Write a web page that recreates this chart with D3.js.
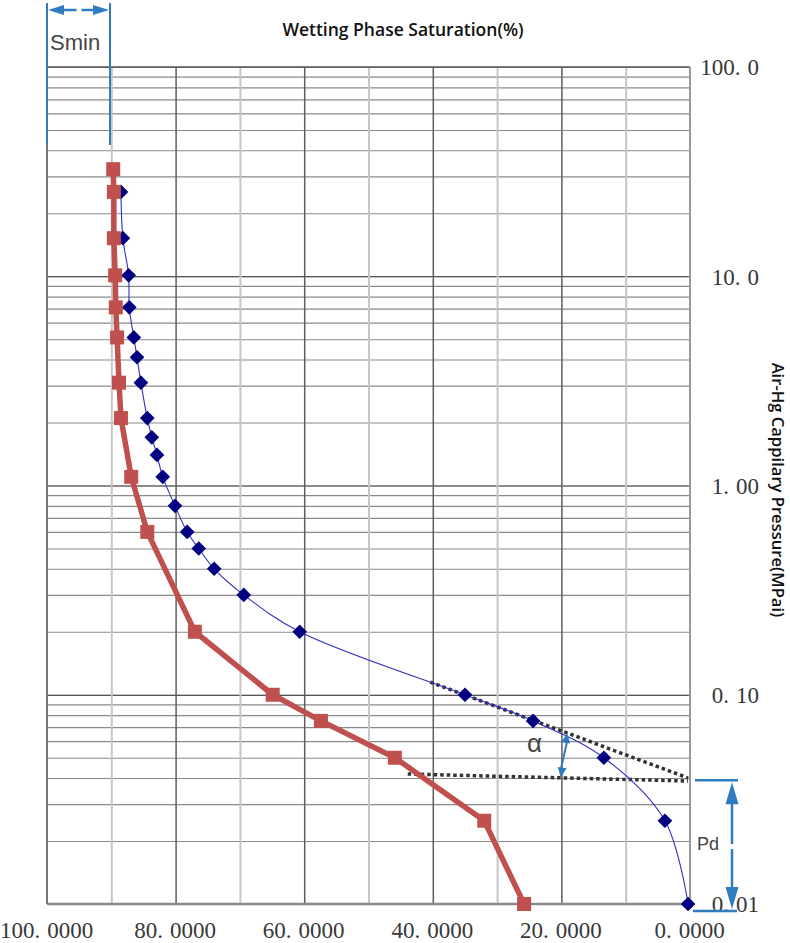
<!DOCTYPE html>
<html>
<head>
<meta charset="utf-8">
<script src="https://cdn.jsdelivr.net/npm/d3@7"></script>
<style>
  body { margin: 0; background: #fff; }
  svg { display: block; }
</style>
</head>
<body>
<div id="chart"></div>
<script>
// tick values / labels
const satTicks = [100, 80, 60, 40, 20, 0];
const satLabels = ["100.0000", "80.0000", "60.0000", "40.0000", "20.0000", "0.0000"];
const presTicks = [0.01, 0.1, 1, 10, 100];
const presLabels = ["0.01", "0.10", "1.00", "10.0", "100.0"];

// blue series (diamonds)
const blueP = [25.3, 15.2, 10.1, 7.1, 5.1, 4.1, 3.1, 2.1, 1.7, 1.4, 1.1, 0.8, 0.6, 0.5, 0.4, 0.3, 0.2, 0.1, 0.075, 0.05, 0.025, 0.01];
const blueS = [88.5, 88.2, 87.3, 87.2, 86.5, 86.0, 85.4, 84.4, 83.7, 82.9, 82.0, 80.1, 78.2, 76.4, 74.0, 69.4, 60.7, 35.0, 24.4, 13.4, 3.9, 0.3];

// red series (squares)
const redP = [32.5, 25.3, 15.2, 10.1, 7.1, 5.1, 3.1, 2.1, 1.1, 0.6, 0.2, 0.1, 0.075, 0.05, 0.025, 0.01];
const redS = [89.7, 89.6, 89.6, 89.4, 89.3, 89.1, 88.8, 88.5, 86.9, 84.4, 77.0, 64.9, 57.4, 45.9, 32.0, 25.8];

// annotations
const sMin = 90.2;
const pd = 0.039;
const tangentS = [40.4, 0.3], tangentP = [0.115, 0.040];
const flatS = [43.9, 0.3], flatP = [0.0418, 0.0387];
const alphaS = [19.1, 20.1], alphaP = [0.0656, 0.0402];

const W = 790, H = 943;
const pLeft = 47, pRight = 690, pTop = 67, pBottom = 904;
const annBlue = "#2f7cc0";

const svg = d3.select("#chart").append("svg")
    .attr("width", W)
    .attr("height", H);

const x = d3.scaleLinear().domain([100, 0]).range([pLeft, pRight]);
const y = d3.scaleLog().domain([0.01, 100]).range([pBottom, pTop]);

// horizontal grid (minor + decades)
let hVals = [];
[0.01, 0.1, 1, 10].forEach(d => { for (let k = 1; k <= 9; k++) hVals.push(+(k * d).toPrecision(3)); });
hVals.push(100);

svg.append("g")
    .attr("transform", `translate(${pLeft},0)`)
    .call(d3.axisLeft(y).tickValues(hVals).tickSize(-(pRight - pLeft)).tickFormat(""))
    .call(g => g.select(".domain").remove())
    .selectAll("line")
    .attr("stroke", d => presTicks.includes(d) && d !== 0.01 && d !== 100 ? "#1a1a1a" : "#8a8a8a")
    .attr("stroke-width", 1.2);

// vertical grid
svg.append("g")
    .attr("transform", `translate(0,${pBottom})`)
    .call(d3.axisBottom(x).tickValues(d3.range(10, 100, 10)).tickSize(-(pBottom - pTop)).tickFormat(""))
    .call(g => g.select(".domain").remove())
    .selectAll("line")
    .attr("stroke", d => d % 20 === 0 ? "#5e5e5e" : "#c6c6c6")
    .attr("stroke-width", d => d % 20 === 0 ? 1.5 : 2);

// frame
svg.append("line").attr("x1", pLeft).attr("x2", pRight).attr("y1", pTop).attr("y2", pTop)
    .attr("stroke", "#555").attr("stroke-width", 1.5);
svg.append("line").attr("x1", pLeft).attr("x2", pRight).attr("y1", pBottom).attr("y2", pBottom)
    .attr("stroke", "#8a8a8a").attr("stroke-width", 2.5);
svg.append("line").attr("x1", pLeft).attr("x2", pLeft).attr("y1", pTop).attr("y2", pBottom)
    .attr("stroke", "#777").attr("stroke-width", 2);
svg.append("line").attr("x1", pRight).attr("x2", pRight).attr("y1", pTop).attr("y2", pBottom)
    .attr("stroke", "#999").attr("stroke-width", 2);

// splits "100.0000" so the period gets the wide look of the original font
function widePeriod(sel) {
    sel.each(function () {
        const t = d3.select(this), s = t.text(), i = s.indexOf(".");
        t.text(null);
        t.append("tspan").text(s.slice(0, i + 1));
        t.append("tspan").attr("dx", 7).text(s.slice(i + 1));
    });
}

// bottom axis labels
svg.append("g")
    .attr("transform", `translate(0,${pBottom})`)
    .call(d3.axisBottom(x).tickValues(satTicks).tickSize(0)
        .tickFormat((d, i) => satLabels[i]))
    .call(g => g.select(".domain").remove())
    .selectAll("text")
    .attr("y", 34).attr("dy", 0).attr("dx", -1)
    .style("font-family", "'Liberation Serif', serif")
    .style("font-size", "23px")
    .style("fill", "#383838")
    .call(widePeriod);

// right axis labels
svg.append("g")
    .attr("transform", `translate(${pRight},0)`)
    .call(d3.axisRight(y).tickValues(presTicks).tickSize(0)
        .tickFormat((d, i) => presLabels[i]))
    .call(g => g.select(".domain").remove())
    .selectAll("text")
    .attr("x", 69).attr("dy", "0.34em")
    .attr("text-anchor", "end")
    .style("font-family", "'Liberation Serif', serif")
    .style("font-size", "23px")
    .style("fill", "#383838")
    .call(widePeriod);

// titles
svg.append("text")
    .attr("x", 403).attr("y", 36)
    .attr("text-anchor", "middle")
    .style("font-family", "'Open Sans', sans-serif")
    .style("font-weight", 600)
    .style("font-size", "17.5px")
    .style("fill", "#111")
    .text("Wetting Phase Saturation(%)");

svg.append("text")
    .attr("transform", "translate(772,490) rotate(90)")
    .attr("text-anchor", "middle")
    .style("font-family", "'Open Sans', sans-serif")
    .style("font-weight", 600)
    .style("font-size", "16.6px")
    .style("fill", "#111")
    .text("Air-Hg Cappilary Pressure(MPai)");

// dotted construction lines
const dotted = d3.line().x(d => x(d[0])).y(d => y(d[1]));
[[tangentS, tangentP], [flatS, flatP]].forEach(([s, p]) => {
    svg.append("path")
        .attr("d", dotted(s.map((v, i) => [v, p[i]])))
        .attr("fill", "none")
        .attr("stroke", "#333")
        .attr("stroke-width", 3.5)
        .attr("stroke-dasharray", "3.5,3");
});

// blue curve
const blue = blueS.map((s, i) => ({ s, p: blueP[i] }));
svg.append("path")
    .datum(blue)
    .attr("fill", "none")
    .attr("stroke", "#3030c0")
    .attr("stroke-width", 1.1)
    .attr("d", d3.line().curve(d3.curveCatmullRom.alpha(0.5)).x(d => x(d.s)).y(d => y(d.p)));
svg.selectAll(".dia")
    .data(blue)
    .enter().append("path")
    .attr("class", "dia")
    .attr("d", d3.symbol(d3.symbolSquare, 108)())
    .attr("transform", d => `translate(${x(d.s)},${y(d.p)}) rotate(45)`)
    .attr("fill", "#000080");

// red curve
const red = redS.map((s, i) => ({ s, p: redP[i] }));
svg.append("path")
    .datum(red)
    .attr("fill", "none")
    .attr("stroke", "#c0504d")
    .attr("stroke-width", 5.5)
    .attr("stroke-linejoin", "round")
    .attr("d", d3.line().x(d => x(d.s)).y(d => y(d.p)));
svg.selectAll(".sq")
    .data(red)
    .enter().append("rect")
    .attr("class", "sq")
    .attr("x", d => x(d.s) - 7)
    .attr("y", d => y(d.p) - 7)
    .attr("width", 14)
    .attr("height", 14)
    .attr("fill", "#c0504d");

// arrow helper: tip at (tx,ty), pointing along angle (radians)
function head(tx, ty, ang, len, half) {
    const bx = tx - Math.cos(ang) * len, by = ty - Math.sin(ang) * len;
    const nx = -Math.sin(ang) * half, ny = Math.cos(ang) * half;
    svg.append("path")
        .attr("d", `M${tx},${ty}L${bx + nx},${by + ny}L${bx - nx},${by - ny}Z`)
        .attr("fill", annBlue);
}
function seg(x1, y1, x2, y2, w) {
    svg.append("line").attr("x1", x1).attr("y1", y1).attr("x2", x2).attr("y2", y2)
        .attr("stroke", annBlue).attr("stroke-width", w || 2);
}

// Smin
const xs0 = x(100), xs1 = x(sMin);
seg(xs0, 3, xs0, 145);
seg(xs1, 3, xs1, 145);
seg(xs0 + 14, 10, (xs0 + xs1) / 2 - 2, 10, 2.5);
seg((xs0 + xs1) / 2 + 3, 10, xs1 - 14, 10, 2.5);
head(xs0 + 1, 10, Math.PI, 16, 5);
head(xs1 - 1, 10, 0, 16, 5);
svg.append("text")
    .attr("x", xs0 + 3).attr("y", 50)
    .style("font-family", "'Liberation Sans', Arial, sans-serif")
    .style("font-size", "22px")
    .style("fill", "#444")
    .text("Smin");

// alpha
const ax0 = x(alphaS[0]), ay0 = y(alphaP[0]), ax1 = x(alphaS[1]), ay1 = y(alphaP[1]);
const aAng = Math.atan2(ay1 - ay0, ax1 - ax0);
seg(ax0, ay0 + 8, ax1, ay1 - 8, 2);
head(ax0, ay0, aAng + Math.PI, 10, 4.5);
head(ax1, ay1, aAng, 10, 4.5);
svg.append("text")
    .attr("x", 527).attr("y", 752)
    .style("font-family", "'Liberation Sans', Arial, sans-serif")
    .style("font-size", "26px")
    .style("fill", "#444")
    .text("α");

// Pd
const pdTop = y(pd), pdBot = y(0.01) + 7, pdX = x(0) + 42;
seg(x(0) + 5, pdTop, x(0) + 48, pdTop, 2.5);
seg(x(0) + 3, pdBot, x(0) + 47, pdBot, 2.5);
seg(pdX, pdTop + 18, pdX, 844, 2.5);
seg(pdX, 849, pdX, pdBot - 18, 2.5);
head(pdX, pdTop + 2, -Math.PI / 2, 22, 6.5);
head(pdX, pdBot - 2, Math.PI / 2, 22, 6.5);
svg.append("text")
    .attr("x", 697).attr("y", 850)
    .style("font-family", "'Liberation Sans', Arial, sans-serif")
    .style("font-size", "18px")
    .style("fill", "#444")
    .text("Pd");
</script>
</body>
</html>
